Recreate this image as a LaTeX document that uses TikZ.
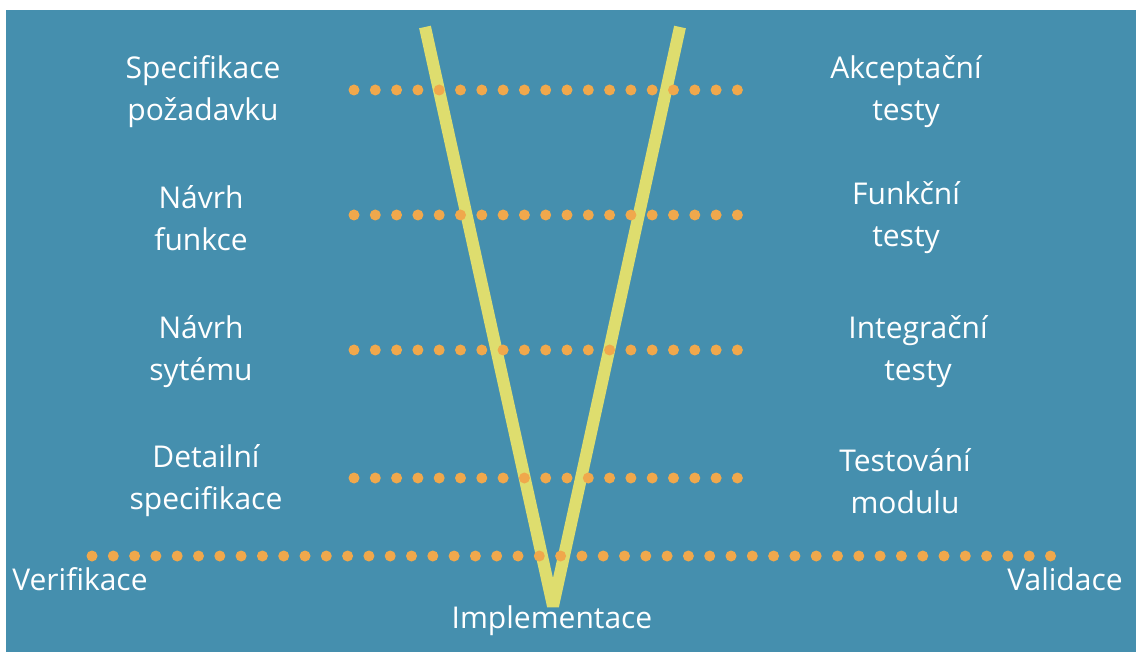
\documentclass[tikz,border=0pt]{standalone}
\usepackage{fontspec}
\setmainfont{Open Sans}

\definecolor{vblue}{RGB}{69,143,174}
\definecolor{vyellow}{RGB}{222,221,110}
\definecolor{dotorange}{RGB}{240,168,76}

\tikzset{
  stage/.style={text=white, align=center, font=\fontsize{30}{42}\selectfont},
  vline/.style={draw=vyellow, line width=12pt, line join=bevel},
  dotrow/.style={draw=dotorange, line width=11pt, line cap=round, dash pattern=on 0pt off 21.3pt},
}

\begin{document}
\begin{tikzpicture}[x=1pt,y=-1pt]
        \useasboundingbox (0,0) rectangle (1136,652);
        \fill[white] (0,0) rectangle (1136,652);
        \fill[vblue] (6,10) rectangle (1136,652);

        % the V
        \coordinate (topL) at (425,27);
        \coordinate (tip) at (553,606);
        \coordinate (topR) at (680,27);
        \draw[vline] (topL) -- (tip) -- (topR);

        % dotted levels
        \foreach \y/\xe in {90/752, 215/740, 350/752, 478/752}
            \draw[dotrow] (354,\y) -- (\xe,\y);
        \draw[dotrow] (92,556) -- (1052,556);

        % left side
        \node[stage] (spec) at (203,92) {Specifikace\\požadavku};
        \node[stage] (funk) at (201,218) {Návrh\\funkce};
        \node[stage] (syst) at (201,352) {Návrh\\sytému};
        \node[stage] (detail) at (206,481) {Detailní\\specifikace};

        % right side
        \node[stage] (akcept) at (906,92) {Akceptační\\testy};
        \node[stage] (ftest) at (906,218) {Funkční\\testy};
        \node[stage] (integ) at (918,352) {Integrační\\testy};
        \node[stage] (modul) at (905,481) {Testování\\modulu};

        \node[stage] (verif) at (80,579) {Verifikace};
        \node[stage] (valid) at (1065,579) {Validace};
        \node[stage] (impl) at (552,621) {Implementace};
    \end{tikzpicture}
\end{document}
